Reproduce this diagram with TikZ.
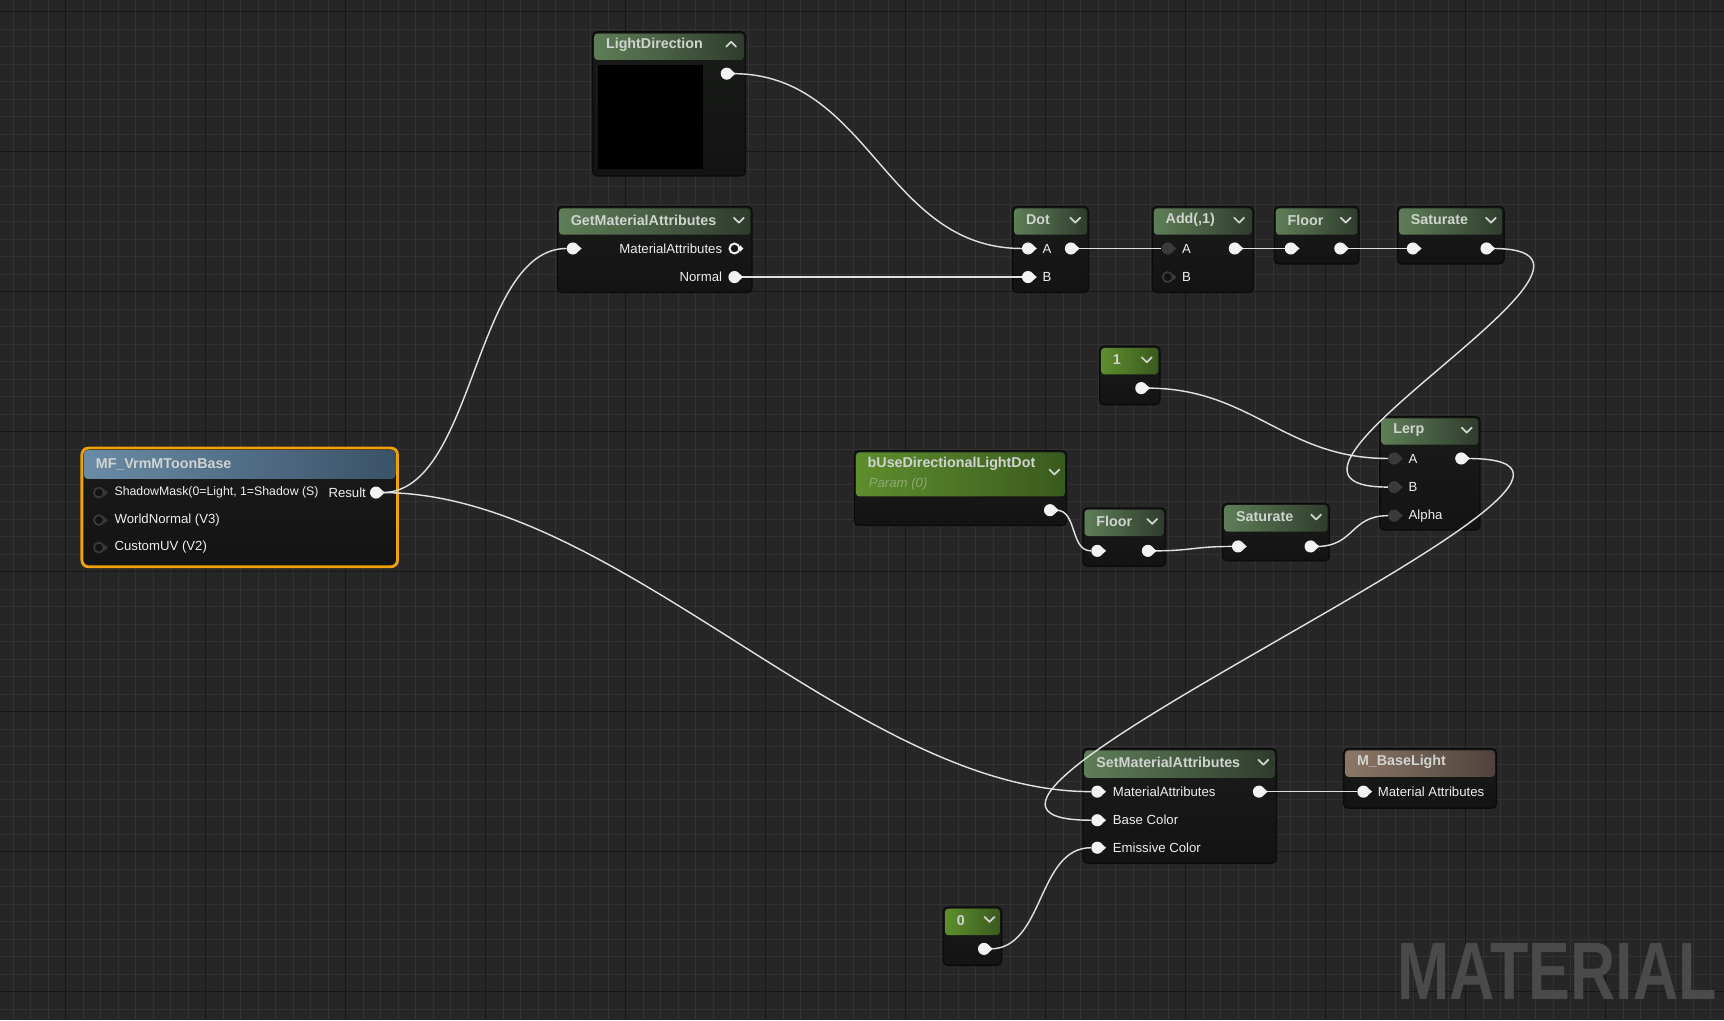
\documentclass[tikz,border=0pt]{standalone}
\usepackage{fontspec}
\setmainfont{Liberation Sans}
\newfontfamily\markfont[FakeStretch=0.77]{Liberation Sans}

\definecolor{canvas}{HTML}{262626}
\definecolor{minorln}{HTML}{323232}
\definecolor{majorln}{HTML}{181818}
\definecolor{boxtop}{HTML}{1A1C1A}
\definecolor{boxbot}{HTML}{121312}
\definecolor{boxline}{HTML}{0B0B0B}
\definecolor{ttlc}{HTML}{D0D3D0}
\definecolor{lblc}{HTML}{EEEEEE}
\definecolor{plugc}{HTML}{F2F2F2}
\definecolor{offc}{HTML}{3A3A3A}
\definecolor{wirec}{HTML}{E0E0E0}
\definecolor{paramc}{HTML}{8FA872}
\definecolor{selc}{HTML}{F0A00A}
\definecolor{markc}{HTML}{4A4A4A}
\definecolor{greenL}{HTML}{5E7E57}
\definecolor{greenR}{HTML}{2F3C2D}
\definecolor{constL}{HTML}{5E8E2E}
\definecolor{constR}{HTML}{3A5A1E}
\definecolor{blueL}{HTML}{6A8BA6}
\definecolor{blueR}{HTML}{3A5268}
\definecolor{brownL}{HTML}{8C7767}
\definecolor{brownR}{HTML}{4E433C}

\pgfdeclarelayer{back}
\pgfdeclarelayer{wires}
\pgfsetlayers{back,wires,main}

\begin{document}
\begin{tikzpicture}[x=1pt,y=-1pt,font=\fontsize{12}{14}\selectfont]
    \tikzstyle{box}=[top color=boxtop,bottom color=boxbot,draw=boxline,line width=1.2pt,rounded corners=4pt,anchor=north west,inner sep=0pt,outer sep=0pt]
    \tikzstyle{head}=[rounded corners=3pt,anchor=north west,inner sep=0pt,outer sep=0pt]
    \tikzstyle{hgreen}=[left color=greenL,right color=greenR]
    \tikzstyle{hconst}=[left color=constL,right color=constR]
    \tikzstyle{hblue}=[left color=blueL,right color=blueR]
    \tikzstyle{hbrown}=[left color=brownL,right color=brownR]
    \tikzstyle{ttl}=[anchor=west,inner sep=0pt,text=ttlc,font=\bfseries\fontsize{13}{15}\selectfont]
    \tikzstyle{lbl}=[anchor=west,inner sep=0pt,text=lblc]
    \tikzstyle{plug}=[circle,fill=plugc,minimum size=11pt,inner sep=0pt]
    \tikzstyle{plugoff}=[circle,fill=offc,minimum size=11pt,inner sep=0pt]
    \tikzstyle{plughole}=[circle,draw=offc,line width=1.6pt,fill=boxbot,minimum size=9pt,inner sep=0pt]
    \tikzstyle{plugring}=[circle,draw=plugc,line width=1.8pt,fill=boxbot,minimum size=9pt,inner sep=0pt]
    \tikzstyle{wire}=[draw=wirec,line width=1.3pt]
    \tikzstyle{chev}=[draw=ttlc,line width=1.6pt,line cap=round,line join=round]

    \useasboundingbox (0,0) rectangle (1568,928);

    \begin{pgfonlayer}{back}
    % canvas and grid
    \fill[canvas] (0,0) rectangle (1568,928);
    \foreach \k in {0,...,97}
    \draw[minorln,line width=0.9pt] ({11.85+15.917*\k},0) -- ++(0,928);
    \foreach \k in {0,...,57}
    \draw[minorln,line width=0.9pt] (0,{10.5+15.917*\k}) -- ++(1568,0);
    \foreach \k in {0,...,11}
    \draw[majorln,line width=1.2pt] ({59.6+127.33*\k},0) -- ++(0,928);
    \foreach \k in {0,...,7}
    \draw[majorln,line width=1.2pt] (0,{10.5+127.33*\k}) -- ++(1568,0);
    \node[anchor=base west,inner sep=0pt,text=markc,font=\markfont\bfseries\fontsize{74}{74}\selectfont] (mark) at (1271,909) {MATERIAL};

    % expression nodes
    \foreach \nm/\x/\y/\w/\h/\hh/\hc/\ty/\ttl in {
        ldir/539/29/139/131/24/hgreen/12/LightDirection,
        getm/507/188/177/78/24/hgreen/12/GetMaterialAttributes,
        dot/921/188/69/78/24/hgreen/12/Dot,
        add/1048/188/92/78/24/hgreen/12/{Add(,1)},
        floora/1159/188/77/52/24/hgreen/12/Floor,
        sata/1271/188/97/52/24/hgreen/12/Saturate,
        one/1000/315/55/53/24/hconst/12/1,
        buse/777/410/193/68/40/hconst/12/bUseDirectionalLightDot,
        floorb/985/462/75/53/24/hgreen/12/Floor,
        satb/1112/458/97/52/24/hgreen/12/Saturate,
        lerp/1255/379/91/103/24/hgreen/12/Lerp,
        mf/75/408/286/107/26/hblue/14/MF\_VrmMToonBase,
        setm/985/681/176/104/25/hgreen/12.5/SetMaterialAttributes,
        base/1222/681/139/54/24/hbrown/12/M\_BaseLight,
        zero/858/825/53/53/24/hconst/12/0}
    {
        \node[box,minimum width=\w*1pt,minimum height=\h*1pt] (\nm) at (\x,\y) {};
        \node[head,\hc,minimum width={(\w-3)*1pt},minimum height=\hh*1pt] (\nm-h) at (\x+1.5,\y+1.5) {};
        \node[ttl] at (\x+12,\y+\ty) {\ttl};
    }
    \fill[black] (544,59) rectangle (639,154);
    \draw[selc,line width=2.6pt,rounded corners=6pt] (74.5,407.5) rectangle (361.5,515.5);

    % dropdown arrows
    \foreach \cx/\cy in {672/200,978/200,1127/200,1224/200,1356/200,1043/327,959/429,
        1048/474,1197/470,1334/391,1149/693,900/836}
    \draw[chev] (\cx-4.5,\cy-2) -- (\cx,\cy+2.5) -- (\cx+4.5,\cy-2);
    \draw[chev] (660.5,42.5) -- (665,38) -- (669.5,42.5);
    \end{pgfonlayer}

    % pin labels
    \node[lbl,anchor=east] at (657,226) {MaterialAttributes};
    \node[lbl,anchor=east] at (657,252) {Normal};
    \node[lbl] at (948,226) {A};
    \node[lbl] at (948,252) {B};
    \node[lbl] at (1075,226) {A};
    \node[lbl] at (1075,252) {B};
    \node[lbl] at (1281,417) {A};
    \node[lbl] at (1281,443) {B};
    \node[lbl] at (1281,469) {Alpha};
    \node[lbl,text=paramc,font=\itshape\fontsize{12}{14}\selectfont] at (790,440) {Param (0)};
    \node[lbl,font=\fontsize{11.2}{14}\selectfont] at (104,448) {ShadowMask(0=Light, 1=Shadow (S)};
    \node[lbl,anchor=east] at (333,448) {Result};
    \node[lbl] at (104,473) {WorldNormal (V3)};
    \node[lbl] at (104,498) {CustomUV (V2)};
    \node[lbl] at (1012,720) {MaterialAttributes};
    \node[lbl] at (1012,746) {Base Color};
    \node[lbl] at (1012,771) {Emissive Color};
    \node[lbl] at (1253,720) {Material Attributes};

    % connected pins
    \foreach \p/\px/\py in {ldir-o/661/67, getm-i/521/226, getm-n/668/252,
        dot-a/935/226, dot-b/935/252, dot-o/974/226, add-o/1123/226,
        floora-i/1174/226, floora-o/1219/226, sata-i/1285/226, sata-o/1352/226,
        one-o/1038/353, buse-o/955/464, floorb-i/998/501, floorb-o/1044/501,
        satb-i/1126/497, satb-o/1192/497, lerp-o/1329/417, mf-o/342/448,
        setm-ma/998/720, setm-bc/998/746, setm-ec/998/771, setm-o/1145/720,
        base-ma/1240/720, zero-o/895/863}
    {
        \node[plug] (\p) at (\px,\py) {};
        \fill[plugc] (\px+4.5,\py-3) -- (\px+8,\py) -- (\px+4.5,\py+3) -- cycle;
    }
    % idle pins
    \foreach \p/\px/\py in {add-a/1062/226, lerp-a/1268/417, lerp-b/1268/443, lerp-al/1268/469}
    {
        \node[plugoff] (\p) at (\px,\py) {};
        \fill[offc] (\px+4.5,\py-3) -- (\px+8,\py) -- (\px+4.5,\py+3) -- cycle;
    }
    \foreach \p/\px/\py in {add-b/1062/252, mf-s/90/448, mf-w/90/473, mf-c/90/498}
    {
        \node[plughole] (\p) at (\px,\py) {};
        \fill[offc] (\px+5,\py-3) -- (\px+8,\py) -- (\px+5,\py+3) -- cycle;
    }
    \node[plugring] (getm-ma) at (668,226) {};
    \fill[plugc] (673,223) -- (676,226) -- (673,229) -- cycle;

    % Connect every output with the input it feeds
    \begin{pgfonlayer}{wires}
    \foreach \src/\dst/\t in {ldir-o/dot-a/130, getm-n/dot-b/20, mf-o/getm-i/90,
        mf-o/setm-ma/220, dot-o/add-a/20, add-o/floora-i/20, floora-o/sata-i/20,
        sata-o/lerp-b/165, one-o/lerp-a/100, buse-o/floorb-i/25, floorb-o/satb-i/40,
        satb-o/lerp-al/40, lerp-o/setm-bc/235, setm-o/base-ma/20, zero-o/setm-ec/55}
    \draw[wire] (\src) .. controls +(\t,0) and +(-\t,0) .. (\dst);
    \end{pgfonlayer}
\end{tikzpicture}
\end{document}
